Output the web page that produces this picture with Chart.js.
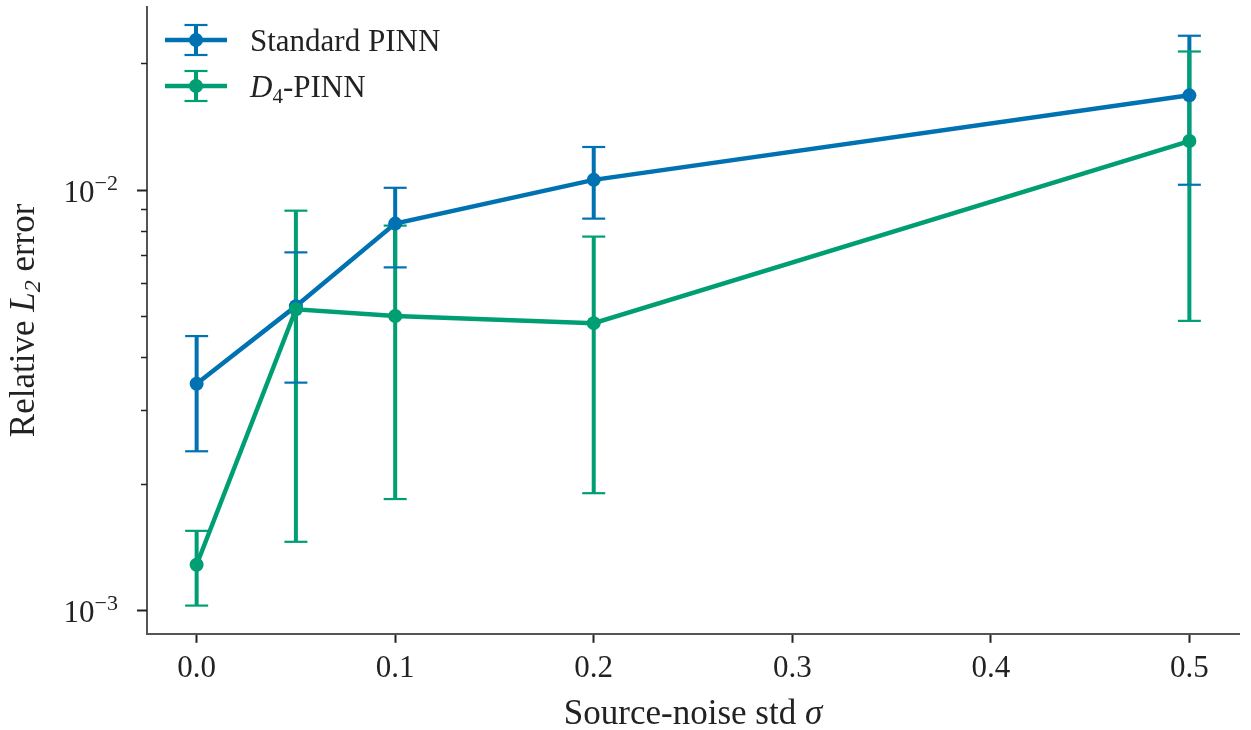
<!DOCTYPE html>
<html>
<head>
<meta charset="utf-8">
<script src="https://cdn.jsdelivr.net/npm/chart.js@4"></script>
<style>
  html, body { margin: 0; padding: 0; background: #fff; }
  #wrap { width: 1251px; height: 730px; position: relative; }
</style>
</head>
<body>
<div id="wrap"><canvas id="grafico"></canvas></div>
<script>
// Noise levels on the x axis
const sigma = [0, 0.05, 0.1, 0.2, 0.5];

// Standard PINN: mean and error-bar ends
const stdMean = [0.00346, 0.00529, 0.00831, 0.01056, 0.01677];
const stdLow  = [0.00239, 0.00348, 0.00654, 0.00854, 0.01028];
const stdHigh = [0.00449, 0.00710, 0.01011, 0.01264, 0.02324];

// D4-PINN: mean and error-bar ends
const d4Mean = [0.001284, 0.00520, 0.00501, 0.00482, 0.01306];
const d4Low  = [0.001027, 0.001456, 0.00184, 0.00190, 0.00488];
const d4High = [0.001546, 0.00892, 0.00822, 0.00774, 0.02132];

const xTicks = [0, 0.1, 0.2, 0.3, 0.4, 0.5];
const yTicks = [0.001, 0.002, 0.003, 0.004, 0.005, 0.006, 0.007, 0.008, 0.009, 0.01, 0.02];

const AZUL = '#0072B2';
const VERDE = '#009E73';
const TINTA = '#222222';
const SERIF = "'Liberation Serif', 'DejaVu Serif', serif";

// escreve um texto com trechos de fontes diferentes (itálico, sub/sobrescrito)
function textoMisto(ctx, partes, x, y, alinhamento) {
  let total = 0;
  partes.forEach(p => { ctx.font = p.f; total += ctx.measureText(p.t).width; });
  let cx = x;
  if (alinhamento === 'center') cx = x - total / 2;
  if (alinhamento === 'right') cx = x - total;
  ctx.textAlign = 'left';
  ctx.textBaseline = 'alphabetic';
  partes.forEach(p => {
    ctx.font = p.f;
    ctx.fillText(p.t, cx, y + (p.dy || 0));
    cx += ctx.measureText(p.t).width;
  });
}

// barras de erro: hastes de todas as séries primeiro, depois os "chapéus"
const barrasErro = {
  id: 'barrasErro',
  beforeDatasetsDraw(chart) {
    const { ctx, scales: { x, y } } = chart;
    const series = [[stdLow, stdHigh, AZUL], [d4Low, d4High, VERDE]];
    ctx.save();
    ctx.lineCap = 'butt';
    series.forEach(([lo, hi, cor]) => {
      ctx.strokeStyle = cor;
      ctx.lineWidth = 4;
      sigma.forEach((s, i) => {
        const px = x.getPixelForValue(s);
        ctx.beginPath();
        ctx.moveTo(px, y.getPixelForValue(lo[i]));
        ctx.lineTo(px, y.getPixelForValue(hi[i]));
        ctx.stroke();
      });
    });
    series.forEach(([lo, hi, cor]) => {
      ctx.strokeStyle = cor;
      ctx.lineWidth = 2.2;
      sigma.forEach((s, i) => {
        const px = x.getPixelForValue(s);
        [lo[i], hi[i]].forEach(v => {
          const py = y.getPixelForValue(v);
          ctx.beginPath();
          ctx.moveTo(px - 11.5, py);
          ctx.lineTo(px + 11.5, py);
          ctx.stroke();
        });
      });
    });
    ctx.restore();
  }
};

// marcas e rótulos do eixo log, títulos dos eixos e legenda
const decoracao = {
  id: 'decoracao',
  afterDraw(chart) {
    const { ctx, chartArea: area, scales: { y } } = chart;
    ctx.save();
    ctx.fillStyle = TINTA;
    ctx.strokeStyle = TINTA;

    yTicks.forEach(v => {
      const py = Math.round(y.getPixelForValue(v)) + 0.5;
      const exp = Math.log10(v);
      const maior = Math.abs(exp - Math.round(exp)) < 1e-9;
      ctx.lineWidth = maior ? 2 : 1.5;
      ctx.beginPath();
      ctx.moveTo(area.left - (maior ? 10 : 6), py);
      ctx.lineTo(area.left, py);
      ctx.stroke();
      if (maior) {
        textoMisto(ctx, [
          { t: '10', f: `31px ${SERIF}` },
          { t: '\u2212' + Math.abs(Math.round(exp)), f: `22px ${SERIF}`, dy: -12 }
        ], area.left - 29, py + 11, 'right');
      }
    });

    // título do eixo y (girado)
    ctx.save();
    ctx.translate(34, (area.top + area.bottom) / 2);
    ctx.rotate(-Math.PI / 2);
    textoMisto(ctx, [
      { t: 'Relative ', f: `35px ${SERIF}` },
      { t: 'L', f: `italic 35px ${SERIF}` },
      { t: '2', f: `italic 24px ${SERIF}`, dy: 6 },
      { t: ' error', f: `35px ${SERIF}` }
    ], 0, 0, 'center');
    ctx.restore();

    // título do eixo x
    textoMisto(ctx, [
      { t: 'Source-noise std ', f: `35px ${SERIF}` },
      { t: '\u03C3', f: `italic 35px ${SERIF}` }
    ], (area.left + area.right) / 2, 724, 'center');

    // legenda
    const itens = [
      { cor: AZUL, partes: [{ t: 'Standard PINN', f: `31px ${SERIF}` }] },
      { cor: VERDE, partes: [
        { t: 'D', f: `italic 31px ${SERIF}` },
        { t: '4', f: `21px ${SERIF}`, dy: 6 },
        { t: '-PINN', f: `31px ${SERIF}` }
      ] }
    ];
    itens.forEach((item, k) => {
      const ly = area.top + 33 + k * 46;
      const x0 = area.left + 18, x1 = area.left + 80, xc = (x0 + x1) / 2;
      ctx.strokeStyle = item.cor;
      ctx.fillStyle = item.cor;
      ctx.lineWidth = 4;
      ctx.beginPath(); ctx.moveTo(xc, ly - 15); ctx.lineTo(xc, ly + 15); ctx.stroke();
      ctx.lineWidth = 2.2;
      [ly - 15, ly + 15].forEach(cy => {
        ctx.beginPath(); ctx.moveTo(xc - 11.5, cy); ctx.lineTo(xc + 11.5, cy); ctx.stroke();
      });
      ctx.lineWidth = 4.5;
      ctx.beginPath(); ctx.moveTo(x0, ly); ctx.lineTo(x1, ly); ctx.stroke();
      ctx.beginPath(); ctx.arc(xc, ly, 7, 0, Math.PI * 2); ctx.fill();
      ctx.fillStyle = TINTA;
      textoMisto(ctx, item.partes, area.left + 103, ly + 11, 'left');
    });

    ctx.restore();
  }
};

const ctx = document.getElementById('grafico').getContext('2d');
new Chart(ctx, {
  type: 'line',
  data: {
    datasets: [
      {
        label: 'Standard PINN',
        data: sigma.map((s, i) => ({ x: s, y: stdMean[i] })),
        borderColor: AZUL,
        backgroundColor: AZUL,
        pointBackgroundColor: AZUL,
        borderWidth: 4.5,
        pointRadius: 7,
        pointBorderWidth: 0,
        order: 2
      },
      {
        label: 'D4-PINN',
        data: sigma.map((s, i) => ({ x: s, y: d4Mean[i] })),
        borderColor: VERDE,
        backgroundColor: VERDE,
        pointBackgroundColor: VERDE,
        borderWidth: 4.5,
        pointRadius: 7,
        pointBorderWidth: 0,
        order: 1
      }
    ]
  },
  options: {
    responsive: true,
    maintainAspectRatio: false,
    animation: false,
    layout: { padding: { left: 147, right: 12, top: 4, bottom: 36 } },
    scales: {
      x: {
        type: 'linear',
        min: -0.025,
        max: 0.525,
        afterBuildTicks: axis => { axis.ticks = xTicks.map(v => ({ value: v })); },
        grid: { drawOnChartArea: false, drawTicks: true, tickLength: 9, tickWidth: 2, tickColor: TINTA },
        border: { display: true, color: '#555555', width: 2 },
        ticks: {
          font: { family: SERIF, size: 31 },
          color: TINTA,
          padding: 7,
          maxRotation: 0,
          callback: v => Number(v).toFixed(1)
        }
      },
      y: {
        type: 'logarithmic',
        min: 0.00088,
        max: 0.0272,
        afterBuildTicks: axis => { axis.ticks = yTicks.map(v => ({ value: v })); },
        grid: { drawOnChartArea: false, drawTicks: false },
        border: { display: true, color: '#555555', width: 2 },
        ticks: { display: false }
      }
    },
    plugins: {
      legend: { display: false },
      tooltip: { enabled: false }
    }
  },
  plugins: [barrasErro, decoracao]
});
</script>
</body>
</html>
